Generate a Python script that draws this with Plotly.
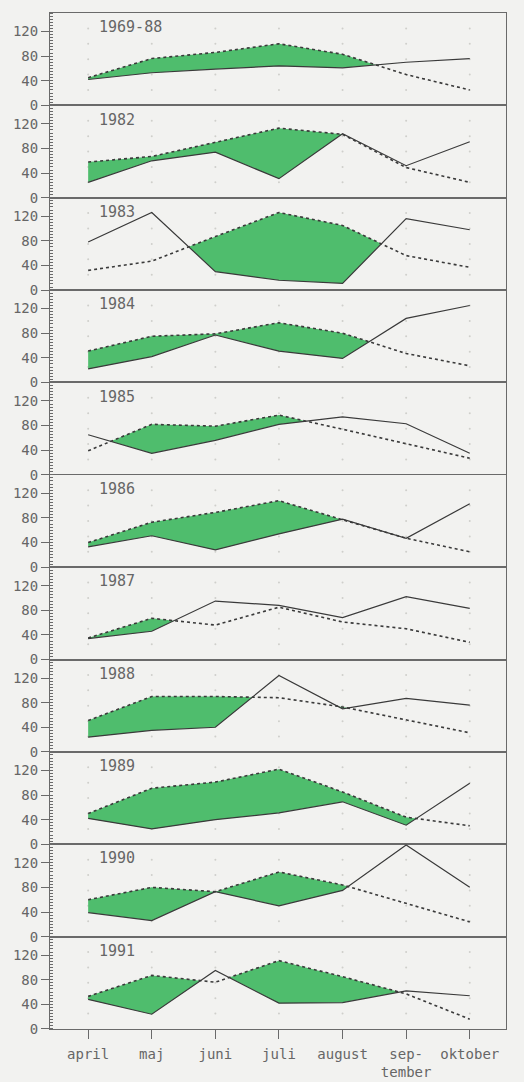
import plotly.graph_objects as go
from plotly.subplots import make_subplots

# Monthly precipitation (solid) and potential evaporation (dotted), mm
MONTHS = ["april", "maj", "juni", "juli", "august", "sep-<br>tember", "oktober"]
YEARS = ["1969-88", "1982", "1983", "1984", "1985", "1986",
         "1987", "1988", "1989", "1990", "1991"]

precip_1969_88 = [42, 53, 59, 64, 61, 70, 76]
evap_1969_88 = [45, 76, 86, 100, 83, 50, 25]
precip_1982 = [25, 60, 74, 31, 104, 52, 91]
evap_1982 = [58, 67, 90, 113, 103, 49, 25]
precip_1983 = [78, 126, 30, 16, 11, 116, 98]
evap_1983 = [32, 47, 87, 126, 105, 56, 37]
precip_1984 = [22, 42, 77, 51, 39, 104, 125]
evap_1984 = [51, 75, 79, 97, 80, 47, 27]
precip_1985 = [65, 35, 56, 82, 94, 83, 35]
evap_1985 = [39, 82, 79, 97, 74, 51, 27]
precip_1986 = [33, 51, 28, 54, 78, 47, 103]
evap_1986 = [40, 73, 89, 108, 77, 47, 25]
precip_1987 = [34, 46, 95, 88, 68, 102, 83]
evap_1987 = [35, 67, 56, 85, 61, 50, 28]
precip_1988 = [24, 35, 40, 124, 70, 87, 76]
evap_1988 = [51, 90, 90, 88, 73, 52, 31]
precip_1989 = [42, 25, 40, 51, 69, 31, 99]
evap_1989 = [50, 91, 101, 122, 85, 44, 30]
precip_1990 = [39, 26, 73, 50, 75, 149, 80]
evap_1990 = [60, 80, 73, 105, 84, 54, 24]
precip_1991 = [48, 24, 95, 42, 43, 62, 54]
evap_1991 = [53, 87, 76, 111, 85, 57, 16]

PRECIP = [precip_1969_88, precip_1982, precip_1983, precip_1984, precip_1985,
          precip_1986, precip_1987, precip_1988, precip_1989, precip_1990,
          precip_1991]
EVAP = [evap_1969_88, evap_1982, evap_1983, evap_1984, evap_1985, evap_1986,
        evap_1987, evap_1988, evap_1989, evap_1990, evap_1991]

Y_TICKS = [0, 40, 80, 120]
GRID_LEVELS = [25, 50, 75, 100, 125]

BG = "#f2f2f0"
GREEN = "#4fbd6d"
INK = "#3a3a3a"
AXIS = "#6a6a6a"
TEXT = "#666666"
FONT = "DejaVu Sans Mono"


def deficit_band(p, e):
    """Upper/lower edges of the area where evaporation exceeds precipitation."""
    xs, lo, hi = [], [], []
    n = len(p)
    for i in range(n):
        xs.append(i)
        lo.append(p[i])
        hi.append(max(p[i], e[i]))
        if i < n - 1:
            d0 = e[i] - p[i]
            d1 = e[i + 1] - p[i + 1]
            if d0 * d1 < 0:
                t = d0 / (d0 - d1)
                yc = p[i] + t * (p[i + 1] - p[i])
                xs.append(i + t)
                lo.append(yc)
                hi.append(yc)
    return xs, lo, hi


n_rows = len(YEARS)
fig = make_subplots(rows=n_rows, cols=1, shared_xaxes=True,
                    vertical_spacing=0)

x_idx = list(range(len(MONTHS)))

for r, (year, p, e) in enumerate(zip(YEARS, PRECIP, EVAP), start=1):
    # faint dot grid
    gx = [m for m in x_idx for _ in GRID_LEVELS]
    gy = [g for _ in x_idx for g in GRID_LEVELS]
    fig.add_trace(go.Scatter(x=gx, y=gy, mode="markers",
                             marker=dict(size=2, color="#cfcfcb"),
                             hoverinfo="skip", showlegend=False),
                  row=r, col=1)

    xs, lo, hi = deficit_band(p, e)
    fig.add_trace(go.Scatter(x=xs, y=lo, mode="lines",
                             line=dict(width=0, color=GREEN),
                             hoverinfo="skip", showlegend=False),
                  row=r, col=1)
    fig.add_trace(go.Scatter(x=xs, y=hi, mode="lines", fill="tonexty",
                             fillcolor=GREEN,
                             line=dict(width=0, color=GREEN),
                             hoverinfo="skip", showlegend=False),
                  row=r, col=1)

    fig.add_trace(go.Scatter(x=x_idx, y=p, mode="lines",
                             line=dict(color=INK, width=1.2),
                             name="nedbør", showlegend=False),
                  row=r, col=1)
    fig.add_trace(go.Scatter(x=x_idx, y=e, mode="lines",
                             line=dict(color=INK, width=1.6, dash="3px,3px"),
                             name="fordampning", showlegend=False),
                  row=r, col=1)

    fig.add_annotation(x=0.14, y=127, xref=f"x{r if r > 1 else ''}",
                       yref=f"y{r if r > 1 else ''}",
                       text=year, showarrow=False, xanchor="left",
                       yanchor="middle",
                       font=dict(family=FONT, size=15, color=TEXT))

    fig.update_yaxes(row=r, col=1, range=[0, 150], tickvals=Y_TICKS,
                     ticktext=[str(v) for v in Y_TICKS],
                     ticks="outside", ticklen=8, tickcolor=AXIS,
                     showline=True, linecolor=AXIS, linewidth=1, mirror=True,
                     showgrid=False, zeroline=False, automargin=False,
                     minor=dict(dtick=5, ticks="inside", ticklen=3,
                                tickcolor=AXIS, showgrid=False),
                     tickfont=dict(family=FONT, size=14, color=TEXT))
    fig.update_xaxes(row=r, col=1, range=[-0.6, 6.57],
                     showline=True, linecolor=AXIS, linewidth=1, mirror=True,
                     showgrid=False, zeroline=False, automargin=False,
                     ticks="", showticklabels=False)

fig.update_xaxes(row=n_rows, col=1, tickvals=x_idx, ticktext=MONTHS,
                 ticks="outside", ticklen=9, tickcolor=AXIS,
                 showticklabels=True, ticklabelstandoff=3,
                 tickfont=dict(family=FONT, size=14, color=TEXT))

fig.update_layout(width=524, height=1082,
                  margin=dict(l=50, r=18, t=13, b=53),
                  paper_bgcolor=BG, plot_bgcolor=BG,
                  showlegend=False)

fig.write_html("out.html")
